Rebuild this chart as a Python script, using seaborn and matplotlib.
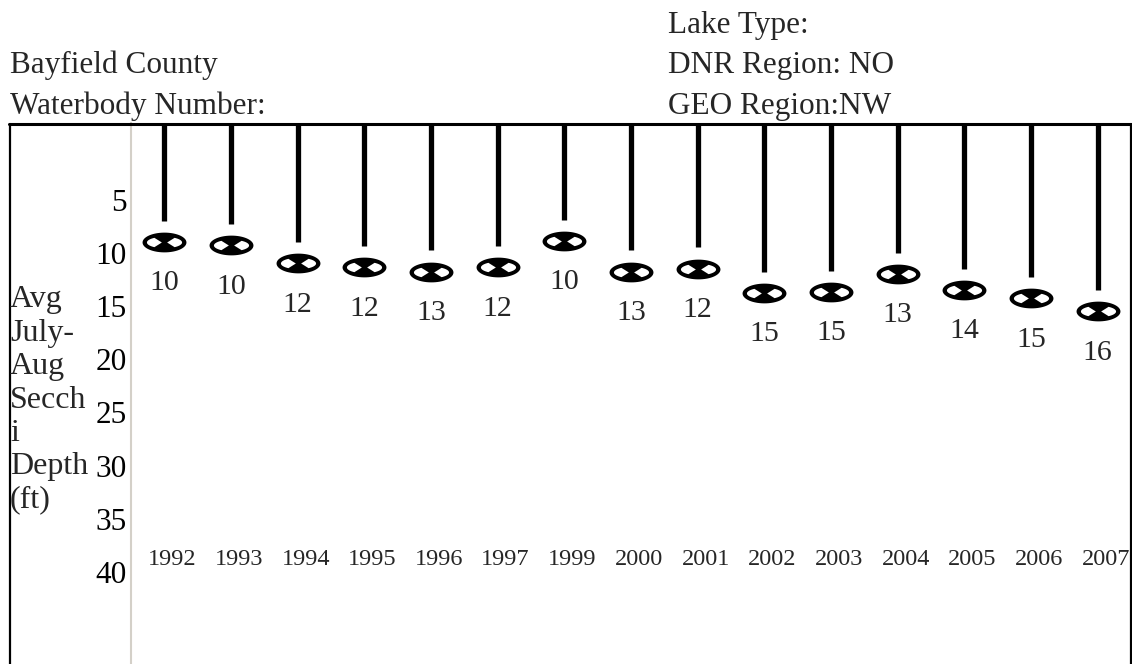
import numpy as np
import matplotlib.pyplot as plt
import seaborn as sns
from matplotlib.path import Path
from matplotlib.markers import MarkerStyle
from matplotlib.lines import Line2D

# Data
years = ['1992', '1993', '1994', '1995', '1996', '1997', '1999', '2000',
         '2001', '2002', '2003', '2004', '2005', '2006', '2007']
secchi_depth = [10.0, 10.3, 12.0, 12.4, 12.8, 12.4, 9.9, 12.8,
                12.5, 14.8, 14.7, 13.0, 14.5, 15.3, 16.5]
depth_labels = [10, 10, 12, 12, 13, 12, 10, 13, 12, 15, 15, 13, 14, 15, 16]
depth_ticks = [5, 10, 15, 20, 25, 30, 35, 40]

header_left = ['Bayfield County', 'Waterbody Number:']
header_right = ['Lake Type:', 'DNR Region: NO', 'GEO Region:NW']
y_label = 'Avg\nJuly-\nAug\nSecch\ni\nDepth\n(ft)'

sns.set_style('white')
plt.rcParams['font.family'] = ['Liberation Serif', 'DejaVu Serif']


def secchi_marker():
    # black ellipse with two white wedges left and right
    t = np.linspace(0, 2 * np.pi, 60)
    outer = np.column_stack([np.cos(t), 0.45 * np.sin(t)])
    a = np.radians(np.linspace(235, 125, 20))
    left = np.column_stack([0.80 * np.cos(a), 0.26 * np.sin(a)])
    left = np.vstack([left, [[-0.12, 0.0]]])
    a = np.radians(np.linspace(55, -55, 20))
    right = np.column_stack([0.80 * np.cos(a), 0.26 * np.sin(a)])
    right = np.vstack([right, [[0.12, 0.0]]])
    verts, codes = [], []
    for poly in (outer, left, right):
        verts.extend(poly.tolist())
        verts.append(poly[0].tolist())
        codes.extend([Path.MOVETO] + [Path.LINETO] * (len(poly) - 1) + [Path.CLOSEPOLY])
    return MarkerStyle(Path(verts, codes))


W, H = 1132, 664
fig = plt.figure(figsize=(W / 100, H / 100), dpi=100)
ax = fig.add_axes([131 / W, 0, 1000 / W, 541 / H])

ax.set_ylim(49.7, -1.19)
top = ax.get_ylim()[1]

# stems from the top of the frame down to each reading
ax.vlines(years, ymin=top, ymax=np.array(secchi_depth) - 2.0,
          color='black', linewidth=3.8)

sns.scatterplot(x=years, y=secchi_depth, marker=secchi_marker(), s=1000,
                color='black', linewidth=0, ax=ax, zorder=3)

for i, (d, lab) in enumerate(zip(secchi_depth, depth_labels)):
    ax.text(i, d + 3.9, str(lab), ha='center', va='center', fontsize=21.5)

for i, yr in enumerate(years):
    ax.text(i + 0.12, 39.9, yr, ha='center', va='center', fontsize=17.5)

ax.set_xlim(-0.5, len(years) - 0.5)
ax.set_xticks([])
ax.set_yticks(depth_ticks)
ax.set_yticklabels([str(t) for t in depth_ticks])
ax.tick_params(axis='y', length=0, pad=3, labelsize=22.5, colors='black')
for lab in ax.get_yticklabels():
    lab.set_va('top')
ax.set_xlabel('')
ax.set_ylabel('')

for side in ['top', 'right', 'bottom']:
    ax.spines[side].set_visible(False)
ax.spines['left'].set_color('#d4d0c8')
ax.spines['left'].set_linewidth(1.5)

# outer frame (open at the bottom)
fig.add_artist(Line2D([9 / W, 1131 / W], [1 - 123.5 / H] * 2,
                      transform=fig.transFigure, color='black', linewidth=2.2))
fig.add_artist(Line2D([9.5 / W] * 2, [0, 1 - 123.5 / H],
                      transform=fig.transFigure, color='black', linewidth=1.6))
fig.add_artist(Line2D([1130.5 / W] * 2, [0, 1 - 123.5 / H],
                      transform=fig.transFigure, color='black', linewidth=1.6))

fig.text(10 / W, 1 - 400 / H, y_label, ha='left', va='center',
         fontsize=23, linespacing=1.2, multialignment='left')

for txt, yb in zip(header_left, [73, 114]):
    fig.text(10 / W, 1 - yb / H, txt, ha='left', va='baseline', fontsize=22.5)
for txt, yb in zip(header_right, [33, 73, 114]):
    fig.text(668 / W, 1 - yb / H, txt, ha='left', va='baseline', fontsize=22.5)

fig.savefig('out.png', dpi=100)
